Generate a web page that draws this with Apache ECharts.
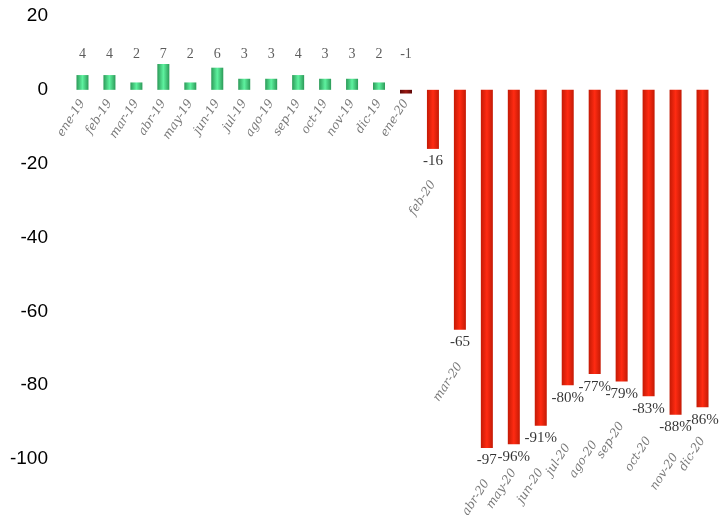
<!DOCTYPE html>
<html>
<head>
<meta charset="utf-8">
<script src="https://cdn.jsdelivr.net/npm/echarts@6/dist/echarts.min.js"></script>
<style>html,body{margin:0;padding:0;background:#fff}#c{width:727px;height:523px}</style>
</head>
<body>
<div id="c"></div>
<script>
var months = ["ene-19","feb-19","mar-19","abr-19","may-19","jun-19","jul-19","ago-19","sep-19","oct-19","nov-19","dic-19","ene-20","feb-20","mar-20","abr-20","may-20","jun-20","jul-20","ago-20","sep-20","oct-20","nov-20","dic-20"];
var values = [4,4,2,7,2,6,3,3,4,3,3,2,-1,-16,-65,-97,-96,-91,-80,-77,-79,-83,-88,-86];
var valueLabels = ["4","4","2","7","2","6","3","3","4","3","3","2","-1","-16","-65","-97","-96%","-91%","-80%","-77%","-79%","-83%","-88%","-86%"];
var yTicks = [-100,-80,-60,-40,-20,0,20];

// style: gap (px) between the bar end and its rotated category label
var catLabelGap = [11,11,11,11,11,11,11,11,11,11,11,11,11,33,34,33,26,44,60,68,42,42,40,31];

function isSmall(v){ return v > -10; }
function grad(edge, mid){
  return new echarts.graphic.LinearGradient(0,0,1,0,[
    {offset:0,color:edge},{offset:0.5,color:mid},{offset:1,color:edge}]);
}
var barData = values.map(function(v){
  var c;
  if (v >= 0) c = grad('#2c9a58','#5ef29f');
  else if (isSmall(v)) c = grad('#5e0707','#9a1a14');
  else c = grad('#c41a05','#ff2b12');
  return {value:v, itemStyle:{color:c}};
});
var valData = values.map(function(v,i){
  var s = isSmall(v);
  return {value: s ? 0 : v, label:{position: s ? 'top' : 'bottom', distance: s ? 29 : 5,
    color: s ? '#333' : '#000', fontSize: s ? 14 : 15}};
});
var catData = values.map(function(v,i){
  var s = isSmall(v);
  return {value: s ? 0 : v, label:{distance: catLabelGap[i]}};
});

var chart = echarts.init(document.getElementById('c'));
chart.setOption({
  animation:false,
  backgroundColor:'#ffffff',
  grid:{left:69,right:11,top:16,bottom:64,containLabel:false},
  xAxis:{type:'category',data:months,boundaryGap:true,
    axisLine:{show:false},axisTick:{show:false},axisLabel:{show:false},splitLine:{show:false}},
  yAxis:{type:'value',min:yTicks[0],max:yTicks[yTicks.length-1],interval:20,
    axisLine:{show:false},axisTick:{show:false},splitLine:{show:false},
    axisLabel:{color:'#000',fontSize:19,fontFamily:'Liberation Sans',margin:21}},
  series:[
    {type:'bar',data:barData,barWidth:12},
    {type:'scatter',data:valData,symbolSize:0,
      label:{show:true,fontFamily:'Liberation Serif',
        formatter:function(p){return valueLabels[p.dataIndex];}}},
    {type:'scatter',data:catData,symbolSize:0,
      label:{show:true,position:'bottom',rotate:57,align:'right',verticalAlign:'middle',
        fontFamily:'DejaVu Serif',fontStyle:'italic',fontSize:12,color:'#555',
        formatter:function(p){return months[p.dataIndex];}}}
  ]
});
</script>
</body>
</html>
